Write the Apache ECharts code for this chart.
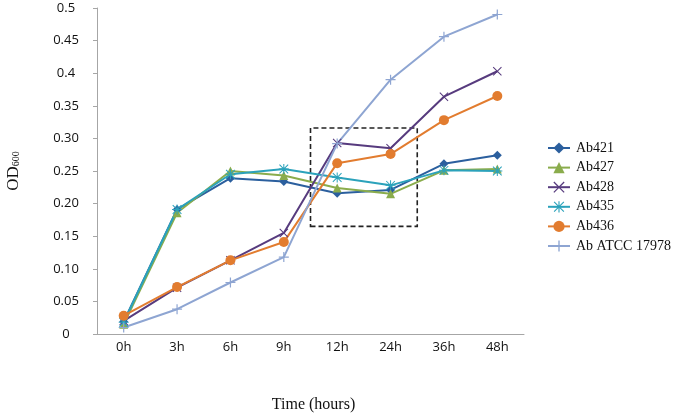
<!DOCTYPE html>
<html>
<head>
<meta charset="UTF-8">
<title>OD600 growth curves</title>
<style>
  html, body { margin: 0; padding: 0; background: #fff; }
  #chart { width: 680px; height: 417px; }
</style>
</head>
<body>
<div id="chart"></div>
<script src="https://cdn.jsdelivr.net/npm/echarts@6/dist/echarts.min.js"></script>
<script>
var timePoints = ['0h', '3h', '6h', '9h', '12h', '24h', '36h', '48h'];
var yTickLabels = ['0', '0.05', '0.10', '0.15', '0.20', '0.25', '0.30', '0.35', '0.4', '0.45', '0.5'];

var ab421 = [0.019, 0.191, 0.239, 0.234, 0.216, 0.221, 0.261, 0.274];
var ab427 = [0.015, 0.186, 0.250, 0.243, 0.224, 0.215, 0.251, 0.253];
var ab428 = [0.020, 0.071, 0.113, 0.155, 0.293, 0.285, 0.364, 0.403];
var ab435 = [0.018, 0.191, 0.245, 0.253, 0.240, 0.228, 0.251, 0.250];
var ab436 = [0.028, 0.072, 0.113, 0.141, 0.262, 0.276, 0.328, 0.365];
var abATCC = [0.010, 0.038, 0.079, 0.118, 0.292, 0.390, 0.456, 0.490];

// dashed box around 12h-24h, in [category index, OD] units
var boxFrom = [3.5, 0.165];
var boxTo = [5.5, 0.316];

var plusPath = 'path://M4.4,0 L5.6,0 L5.6,4.4 L10,4.4 L10,5.6 L5.6,5.6 L5.6,10 L4.4,10 L4.4,5.6 L0,5.6 L0,4.4 L4.4,4.4 Z';
var crossPath = 'path://M0.8,0 L5,4.2 L9.2,0 L10,0.8 L5.8,5 L10,9.2 L9.2,10 L5,5.8 L0.8,10 L0,9.2 L4.2,5 L0,0.8 Z';
var starPath = 'path://M4.5,0 L5.5,0 L5.5,4.5 L10,4.5 L10,5.5 L5.5,5.5 L5.5,10 L4.5,10 L4.5,5.5 L0,5.5 L0,4.5 L4.5,4.5 Z M1,0.3 L5,4.3 L9,0.3 L9.7,1 L5.7,5 L9.7,9 L9,9.7 L5,5.7 L1,9.7 L0.3,9 L4.3,5 L0.3,1 Z';

function makeLine(name, data, color, symbol, size) {
  return {
    name: name,
    type: 'line',
    data: data,
    symbol: symbol,
    symbolSize: size,
    showAllSymbol: true,
    lineStyle: { color: color, width: 2 },
    itemStyle: { color: color },
    emphasis: { disabled: true },
    z: 3
  };
}

var myChart = echarts.init(document.getElementById('chart'));

var option = {
  animation: false,
  backgroundColor: '#fff',
  grid: { left: 97, right: 156, top: 8, bottom: 83, containLabel: false, outerBoundsMode: 'none' },
  legend: {
    orient: 'vertical',
    left: 542,
    top: 136,
    itemGap: 5.6,
    itemWidth: 22,
    itemHeight: 14,
    data: ['Ab421', 'Ab427', 'Ab428', 'Ab435', 'Ab436', 'Ab ATCC 17978'],
    textStyle: { fontFamily: 'Liberation Serif', fontSize: 14, color: '#111', padding: [0, 0, 0, 1] }
  },
  xAxis: [{
    type: 'category',
    data: timePoints,
    boundaryGap: true,
    name: 'Time (hours)',
    nameLocation: 'middle',
    nameGap: 63,
    nameTextStyle: { fontFamily: 'Liberation Serif', fontSize: 16, color: '#111', padding: [0, 0, 0, 6] },
    axisLine: { lineStyle: { color: '#a6a6a6', width: 1 } },
    axisTick: { show: false },
    axisLabel: { fontFamily: 'Open Sans', fontSize: 13, color: '#111', margin: 7 },
    splitLine: { show: false }
  }, {
    type: 'value',
    min: -0.5,
    max: 7.5,
    show: false
  }],
  yAxis: {
    type: 'value',
    min: 0,
    max: 0.5,
    interval: 0.05,
    name: '{a|OD}{b|600}',
    nameLocation: 'middle',
    nameRotate: 90,
    nameGap: 75,
    nameTextStyle: {
      rich: {
        a: { fontFamily: 'Liberation Serif', fontSize: 17, color: '#111' },
        b: { fontFamily: 'Liberation Serif', fontSize: 10, color: '#111', padding: [6, 0, 0, 0] }
      }
    },
    axisLine: { show: true, onZero: false, lineStyle: { color: '#a6a6a6', width: 1 } },
    axisTick: { show: true, length: 4, lineStyle: { color: '#a6a6a6' } },
    axisLabel: {
      fontFamily: 'Open Sans',
      fontSize: 13,
      color: '#111',
      align: 'center',
      margin: 31,
      formatter: function (v) {
        return yTickLabels[Math.round(v / 0.05)];
      }
    },
    splitLine: { show: false }
  },
  series: [
    makeLine('Ab421', ab421, '#2b5f9e', 'diamond', 9),
    makeLine('Ab427', ab427, '#8aac4c', 'triangle', 9),
    makeLine('Ab428', ab428, '#573b7e', crossPath, 9),
    makeLine('Ab435', ab435, '#2ba2bb', starPath, 10),
    makeLine('Ab436', ab436, '#e27c2f', 'circle', 10),
    makeLine('Ab ATCC 17978', abATCC, '#8ea5d2', plusPath, 10),
    {
      name: 'box',
      type: 'line',
      xAxisIndex: 1,
      data: [],
      silent: true,
      markArea: {
        silent: true,
        itemStyle: { color: 'rgba(0,0,0,0)', borderColor: '#222', borderWidth: 1.6, borderType: [5, 3] },
        data: [[{ coord: boxFrom }, { coord: boxTo }]]
      },
      z: 5
    }
  ]
};

myChart.setOption(option);
</script>
</body>
</html>
